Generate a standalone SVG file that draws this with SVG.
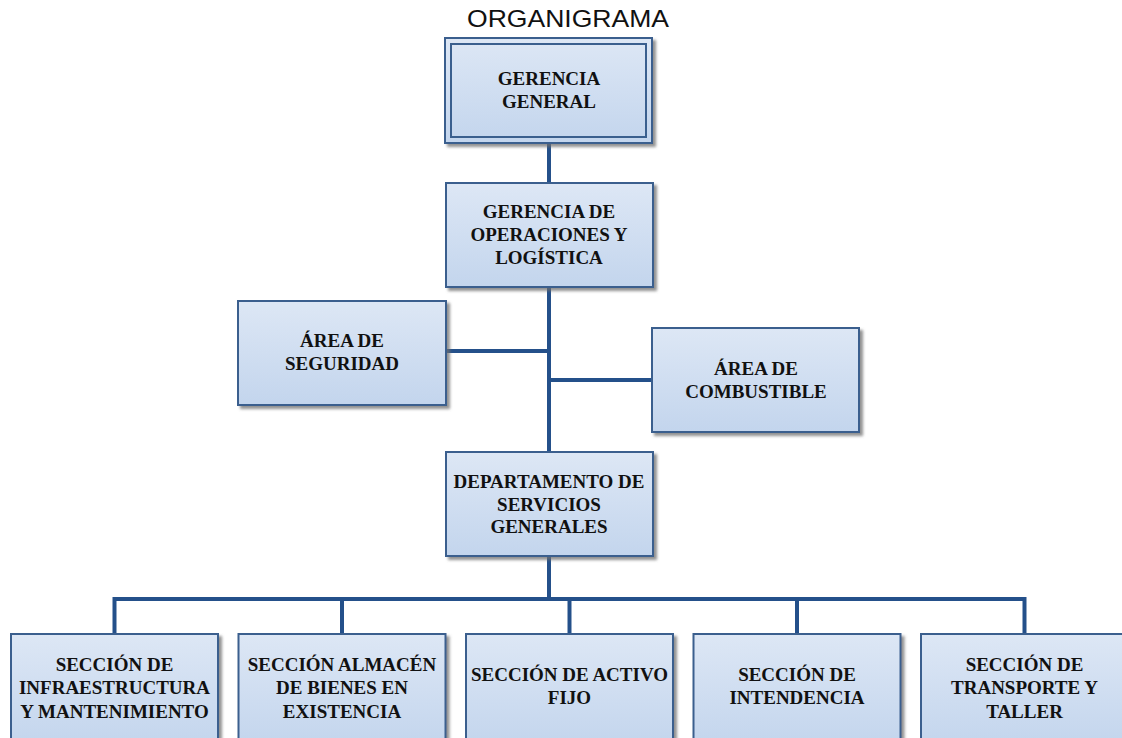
<svg xmlns="http://www.w3.org/2000/svg" width="1122" height="738" viewBox="0 0 1122 738">
<defs>
<linearGradient id="g" x1="0" y1="0" x2="0" y2="1">
<stop offset="0" stop-color="#dde7f5"/>
<stop offset="1" stop-color="#c3d5ed"/>
</linearGradient>
<filter id="sh" x="-10%" y="-10%" width="125%" height="130%">
<feDropShadow dx="3" dy="3" stdDeviation="1.8" flood-color="#6d6d6d" flood-opacity="0.75"/>
</filter>
</defs>
<style>
.box{fill:url(#g);stroke:#3a5f8e;stroke-width:2;filter:url(#sh)}
.inner{fill:none;stroke:#3a5f8e;stroke-width:2}
.t{font-family:"Liberation Serif","Times New Roman",serif;font-weight:bold;font-size:19px;fill:#111;text-anchor:middle}
.c{fill:none;stroke:#24508a;stroke-width:4;stroke-linejoin:miter}
.title{font-family:"Liberation Sans",Arial,sans-serif;font-size:24.5px;fill:#111;text-anchor:middle}
</style>
<rect width="1122" height="738" fill="#ffffff"/>
<text class="title" x="568" y="27" textLength="202" lengthAdjust="spacingAndGlyphs">ORGANIGRAMA</text>

<g id="connectors">
<path class="c" d="M549 142 V183"/>
<path class="c" d="M549 287 V452"/>
<path class="c" d="M446 351 H549"/>
<path class="c" d="M549 380 H652"/>
<path class="c" d="M549 555 V599"/>
<path class="c" d="M114.5 634 V599 H1024.5 V634"/>
<path class="c" d="M342 599 V634"/>
<path class="c" d="M569.5 599 V634"/>
<path class="c" d="M797 599 V634"/>
</g>

<g id="gerencia-general">
<rect class="box" x="445" y="38" width="207" height="105"/>
<rect class="inner" x="451" y="44" width="195" height="93"/>
<text class="t" x="549" y="85">GERENCIA</text>
<text class="t" x="549" y="108">GENERAL</text>
</g>

<g id="gerencia-operaciones">
<rect class="box" x="446" y="183" width="207" height="104"/>
<text class="t" x="549" y="218">GERENCIA DE</text>
<text class="t" x="549" y="241">OPERACIONES Y</text>
<text class="t" x="549" y="264">LOGÍSTICA</text>
</g>

<g id="area-seguridad">
<rect class="box" x="238" y="301" width="208" height="104"/>
<text class="t" x="342" y="347">ÁREA DE</text>
<text class="t" x="342" y="370">SEGURIDAD</text>
</g>

<g id="area-combustible">
<rect class="box" x="652" y="328" width="207" height="104"/>
<text class="t" x="756" y="375">ÁREA DE</text>
<text class="t" x="756" y="398">COMBUSTIBLE</text>
</g>

<g id="departamento-servicios">
<rect class="box" x="446" y="452" width="207" height="104"/>
<text class="t" x="549" y="488">DEPARTAMENTO DE</text>
<text class="t" x="549" y="511">SERVICIOS</text>
<text class="t" x="549" y="533">GENERALES</text>
</g>

<g id="seccion-infraestructura">
<rect class="box" x="11" y="634" width="207" height="112"/>
<text class="t" x="114.5" y="671">SECCIÓN DE</text>
<text class="t" x="114.5" y="694">INFRAESTRUCTURA</text>
<text class="t" x="114.5" y="718">Y MANTENIMIENTO</text>
</g>

<g id="seccion-almacen">
<rect class="box" x="238.5" y="634" width="207" height="112"/>
<text class="t" x="342" y="671">SECCIÓN ALMACÉN</text>
<text class="t" x="342" y="694">DE BIENES EN</text>
<text class="t" x="342" y="718">EXISTENCIA</text>
</g>

<g id="seccion-activo">
<rect class="box" x="466" y="634" width="207" height="112"/>
<text class="t" x="569.5" y="681">SECCIÓN DE ACTIVO</text>
<text class="t" x="569.5" y="704">FIJO</text>
</g>

<g id="seccion-intendencia">
<rect class="box" x="693.5" y="634" width="207" height="112"/>
<text class="t" x="797" y="681">SECCIÓN DE</text>
<text class="t" x="797" y="704">INTENDENCIA</text>
</g>

<g id="seccion-transporte">
<rect class="box" x="921" y="634" width="207" height="112"/>
<text class="t" x="1024.5" y="671">SECCIÓN DE</text>
<text class="t" x="1024.5" y="694">TRANSPORTE Y</text>
<text class="t" x="1024.5" y="718">TALLER</text>
</g>
</svg>
